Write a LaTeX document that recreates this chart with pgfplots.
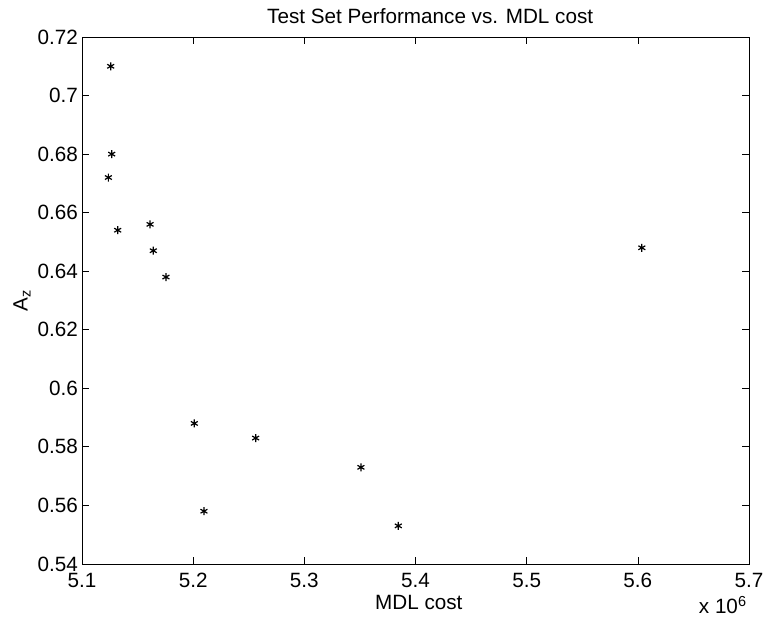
\documentclass[border=0pt]{standalone}
\usepackage{pgfplots}
\pgfplotsset{compat=1.18}
\usepackage{fontspec}
\setmainfont{Liberation Sans}
\newcommand{\lblfont}{\fontsize{15.5}{18}\selectfont}
\begin{document}
\begin{tikzpicture}
\begin{axis}[
  scale only axis,
  width=500pt, height=395pt,
  xmin=5.1, xmax=5.7, ymin=0.54, ymax=0.72,
  xtick={5.1,5.2,5.3,5.4,5.5,5.6,5.7},
  ytick={0.54,0.56,0.58,0.6,0.62,0.64,0.66,0.68,0.7,0.72},
  scaled ticks=false,
  xticklabel style={/pgf/number format/fixed,/pgf/number format/precision=2},
  yticklabel style={/pgf/number format/fixed,/pgf/number format/precision=2},
  /pgf/number format/assume math mode=true,
  tick align=inside,
  major tick length=5pt,
  tick style={black, line width=0.5pt},
  axis line style={line width=0.6pt},
  ticklabel style={font=\lblfont},
  xticklabel style={yshift=-3.5pt},
  yticklabel style={xshift=0.5pt},
  title={Test Set Performance vs. MDL cost},
  title style={font=\lblfont, at={(axis description cs:0.5,1)}, anchor=base, yshift=4.5pt, xshift=11pt},
  xlabel={MDL cost},
  xlabel style={font=\lblfont, at={(axis description cs:0.5,0)}, anchor=base, yshift=-34.5pt, xshift=2.5pt},
  ylabel={A\textsubscript{z}},
  ylabel style={font=\lblfont, at={(axis description cs:0,0.5)}, anchor=center, yshift=45pt},
]
\addplot[only marks, mark=asterisk, mark size=3pt, black, line width=0.9pt] coordinates {
  (5.1258,0.710)
  (5.1267,0.680)
  (5.1237,0.672)
  (5.1321,0.654)
  (5.1612,0.656)
  (5.1641,0.647)
  (5.1755,0.638)
  (5.2010,0.588)
  (5.2562,0.583)
  (5.3509,0.573)
  (5.2097,0.558)
  (5.3845,0.553)
  (5.6036,0.648)
};
\coordinate (sw) at (rel axis cs:0,0);
\coordinate (ne) at (rel axis cs:1,1);
\end{axis}
\node[anchor=base east, font=\lblfont, inner sep=0pt] at ([shift={(-1.5pt,-37.5pt)}]sw -| ne) {x 10\textsuperscript{6}};
\pgfresetboundingbox
\path ([shift={(-61.5pt,-42.75pt)}]sw) rectangle ([shift={(12.75pt,27.75pt)}]ne);
\end{tikzpicture}
\end{document}
